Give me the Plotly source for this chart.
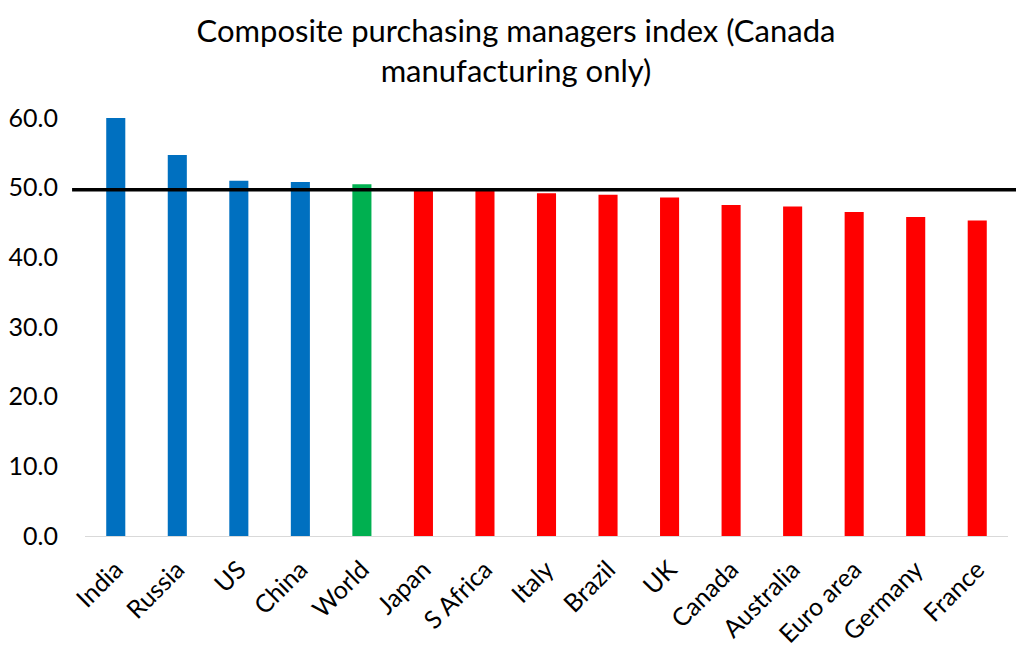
import plotly.graph_objects as go

categories = ["India", "Russia", "US", "China", "World", "Japan", "S Africa", "Italy",
              "Brazil", "UK", "Canada", "Australia", "Euro area", "Germany", "France"]
values = [60.0, 54.7, 51.0, 50.8, 50.5, 49.8, 49.7, 49.2, 49.0, 48.6, 47.5, 47.3, 46.5, 45.8, 45.3]
bar_colors = ["#0070C0"] * 4 + ["#00B050"] + ["#FF0000"] * 10
threshold = 49.7
y_ticks = [0, 10, 20, 30, 40, 50, 60]
y_tick_labels = ["0.0", "10.0", "20.0", "30.0", "40.0", "50.0", "60.0"]

font = "Lato, 'Open Sans', sans-serif"

fig = go.Figure()
fig.add_trace(go.Bar(x=categories, y=values, marker=dict(color=bar_colors, line=dict(width=0)),
                     width=0.31, cliponaxis=False))

fig.add_shape(type="line", xref="paper", yref="y", x0=-0.014, x1=1.015,
              y0=threshold, y1=threshold, line=dict(color="black", width=3.5), layer="above")

fig.update_layout(
    width=1016, height=657,
    paper_bgcolor="white", plot_bgcolor="white",
    margin=dict(l=77, r=16, t=110, b=129, autoexpand=False),
    showlegend=False,
    title=dict(text="Composite purchasing managers index (Canada<br>manufacturing only)",
               x=0.5, xanchor="center", y=0.948, yanchor="middle",
               font=dict(family=font, size=31, color="black")),
    font=dict(family=font, color="black"),
    xaxis=dict(tickangle=-45, tickfont=dict(size=25, color="black"), showline=True,
               linecolor="#d9d9d9", linewidth=1, showgrid=False, ticks="",
               range=[-0.5, 14.5], ticklabelstandoff=8),
    yaxis=dict(range=[0, 60], tickvals=y_ticks, ticktext=y_tick_labels,
               tickfont=dict(size=25, color="black"), showgrid=False, zeroline=False,
               showline=False, ticks="", ticklabelstandoff=26),
)

fig.write_html("out.html")
